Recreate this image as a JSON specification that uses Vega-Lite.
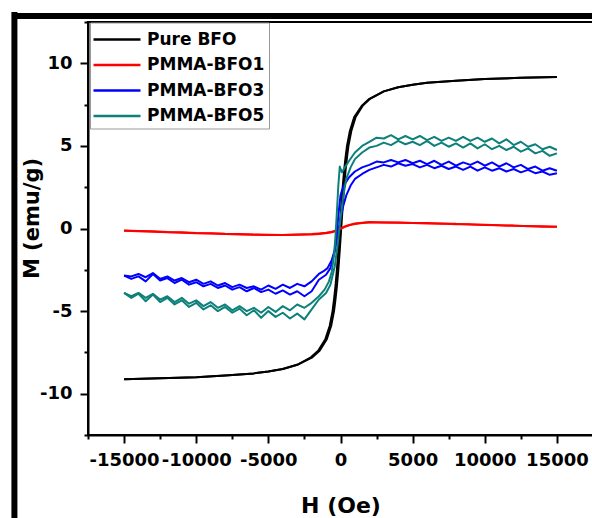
{
  "$schema": "https://vega.github.io/schema/vega-lite/v6.json",
  "autosize": "none",
  "width": 505,
  "height": 413,
  "padding": {"left": 88, "top": 22, "right": 0, "bottom": 83},
  "background": "white",
  "config": {
    "view": {"stroke": "black", "strokeWidth": 2},
    "font": "DejaVu Sans",
    "axis": {
      "domainColor": "black", "domainWidth": 2, "tickColor": "black", "tickWidth": 2,
      "labelFont": "DejaVu Sans", "labelFontWeight": "bold", "labelFontSize": 18, "labelColor": "black",
      "titleFont": "DejaVu Sans", "titleFontWeight": "bold", "titleColor": "black",
      "grid": false, "labelOverlap": false, "labelFlush": false, "labelBound": false
    }
  },
  "datasets": {
    "frame": [
      {"x": -22600, "x2": 21000, "y": 12.86, "y2": 12.86},
      {"x": -22600, "x2": -22600, "y": 13.1, "y2": -18}
    ],
    "curves": [
      {"series": "Pure BFO", "branch": "down", "H": 15000, "M": 9.17},
      {"series": "Pure BFO", "branch": "down", "H": 12500, "M": 9.12},
      {"series": "Pure BFO", "branch": "down", "H": 10000, "M": 9.05},
      {"series": "Pure BFO", "branch": "down", "H": 8000, "M": 8.95},
      {"series": "Pure BFO", "branch": "down", "H": 6000, "M": 8.82},
      {"series": "Pure BFO", "branch": "down", "H": 5000, "M": 8.7},
      {"series": "Pure BFO", "branch": "down", "H": 4000, "M": 8.55},
      {"series": "Pure BFO", "branch": "down", "H": 3000, "M": 8.3},
      {"series": "Pure BFO", "branch": "down", "H": 2000, "M": 7.85},
      {"series": "Pure BFO", "branch": "down", "H": 1500, "M": 7.45},
      {"series": "Pure BFO", "branch": "down", "H": 950, "M": 6.75},
      {"series": "Pure BFO", "branch": "down", "H": 650, "M": 5.9},
      {"series": "Pure BFO", "branch": "down", "H": 450, "M": 5.0},
      {"series": "Pure BFO", "branch": "down", "H": 350, "M": 4.3},
      {"series": "Pure BFO", "branch": "down", "H": 250, "M": 3.5},
      {"series": "Pure BFO", "branch": "down", "H": 150, "M": 2.5},
      {"series": "Pure BFO", "branch": "down", "H": 50, "M": 1.3},
      {"series": "Pure BFO", "branch": "down", "H": -50, "M": 0},
      {"series": "Pure BFO", "branch": "down", "H": -150, "M": -1.3},
      {"series": "Pure BFO", "branch": "down", "H": -250, "M": -2.5},
      {"series": "Pure BFO", "branch": "down", "H": -350, "M": -3.5},
      {"series": "Pure BFO", "branch": "down", "H": -450, "M": -4.3},
      {"series": "Pure BFO", "branch": "down", "H": -550, "M": -5.0},
      {"series": "Pure BFO", "branch": "down", "H": -750, "M": -5.9},
      {"series": "Pure BFO", "branch": "down", "H": -1050, "M": -6.7},
      {"series": "Pure BFO", "branch": "down", "H": -1550, "M": -7.4},
      {"series": "Pure BFO", "branch": "down", "H": -2050, "M": -7.8},
      {"series": "Pure BFO", "branch": "down", "H": -3000, "M": -8.25},
      {"series": "Pure BFO", "branch": "down", "H": -4000, "M": -8.5},
      {"series": "Pure BFO", "branch": "down", "H": -5000, "M": -8.65},
      {"series": "Pure BFO", "branch": "down", "H": -6000, "M": -8.77},
      {"series": "Pure BFO", "branch": "down", "H": -8000, "M": -8.9},
      {"series": "Pure BFO", "branch": "down", "H": -10000, "M": -9.0},
      {"series": "Pure BFO", "branch": "down", "H": -12500, "M": -9.07},
      {"series": "Pure BFO", "branch": "down", "H": -15000, "M": -9.12},
      {"series": "Pure BFO", "branch": "up", "H": -15000, "M": -9.12},
      {"series": "Pure BFO", "branch": "up", "H": -12500, "M": -9.07},
      {"series": "Pure BFO", "branch": "up", "H": -10000, "M": -9.0},
      {"series": "Pure BFO", "branch": "up", "H": -8000, "M": -8.9},
      {"series": "Pure BFO", "branch": "up", "H": -6000, "M": -8.77},
      {"series": "Pure BFO", "branch": "up", "H": -5000, "M": -8.65},
      {"series": "Pure BFO", "branch": "up", "H": -4000, "M": -8.5},
      {"series": "Pure BFO", "branch": "up", "H": -3000, "M": -8.25},
      {"series": "Pure BFO", "branch": "up", "H": -1950, "M": -7.8},
      {"series": "Pure BFO", "branch": "up", "H": -1450, "M": -7.4},
      {"series": "Pure BFO", "branch": "up", "H": -950, "M": -6.7},
      {"series": "Pure BFO", "branch": "up", "H": -650, "M": -5.9},
      {"series": "Pure BFO", "branch": "up", "H": -450, "M": -5.0},
      {"series": "Pure BFO", "branch": "up", "H": -350, "M": -4.3},
      {"series": "Pure BFO", "branch": "up", "H": -250, "M": -3.5},
      {"series": "Pure BFO", "branch": "up", "H": -150, "M": -2.5},
      {"series": "Pure BFO", "branch": "up", "H": -50, "M": -1.3},
      {"series": "Pure BFO", "branch": "up", "H": 50, "M": 0},
      {"series": "Pure BFO", "branch": "up", "H": 150, "M": 1.3},
      {"series": "Pure BFO", "branch": "up", "H": 250, "M": 2.5},
      {"series": "Pure BFO", "branch": "up", "H": 350, "M": 3.5},
      {"series": "Pure BFO", "branch": "up", "H": 450, "M": 4.3},
      {"series": "Pure BFO", "branch": "up", "H": 550, "M": 5.0},
      {"series": "Pure BFO", "branch": "up", "H": 750, "M": 5.9},
      {"series": "Pure BFO", "branch": "up", "H": 1050, "M": 6.75},
      {"series": "Pure BFO", "branch": "up", "H": 1550, "M": 7.45},
      {"series": "Pure BFO", "branch": "up", "H": 2050, "M": 7.85},
      {"series": "Pure BFO", "branch": "up", "H": 3000, "M": 8.3},
      {"series": "Pure BFO", "branch": "up", "H": 4000, "M": 8.55},
      {"series": "Pure BFO", "branch": "up", "H": 5000, "M": 8.7},
      {"series": "Pure BFO", "branch": "up", "H": 6000, "M": 8.82},
      {"series": "Pure BFO", "branch": "up", "H": 8000, "M": 8.95},
      {"series": "Pure BFO", "branch": "up", "H": 10000, "M": 9.05},
      {"series": "Pure BFO", "branch": "up", "H": 12500, "M": 9.12},
      {"series": "Pure BFO", "branch": "up", "H": 15000, "M": 9.17},

      {"series": "PMMA-BFO1", "branch": "down", "H": 15000, "M": 0.1},
      {"series": "PMMA-BFO1", "branch": "down", "H": 14000, "M": 0.14},
      {"series": "PMMA-BFO1", "branch": "down", "H": 13000, "M": 0.14},
      {"series": "PMMA-BFO1", "branch": "down", "H": 12000, "M": 0.18},
      {"series": "PMMA-BFO1", "branch": "down", "H": 11000, "M": 0.19},
      {"series": "PMMA-BFO1", "branch": "down", "H": 10000, "M": 0.23},
      {"series": "PMMA-BFO1", "branch": "down", "H": 9000, "M": 0.24},
      {"series": "PMMA-BFO1", "branch": "down", "H": 8000, "M": 0.28},
      {"series": "PMMA-BFO1", "branch": "down", "H": 7000, "M": 0.29},
      {"series": "PMMA-BFO1", "branch": "down", "H": 6000, "M": 0.33},
      {"series": "PMMA-BFO1", "branch": "down", "H": 5000, "M": 0.33},
      {"series": "PMMA-BFO1", "branch": "down", "H": 4000, "M": 0.37},
      {"series": "PMMA-BFO1", "branch": "down", "H": 3000, "M": 0.37},
      {"series": "PMMA-BFO1", "branch": "down", "H": 2000, "M": 0.39},
      {"series": "PMMA-BFO1", "branch": "down", "H": 1500, "M": 0.35},
      {"series": "PMMA-BFO1", "branch": "down", "H": 1000, "M": 0.3},
      {"series": "PMMA-BFO1", "branch": "down", "H": 600, "M": 0.22},
      {"series": "PMMA-BFO1", "branch": "down", "H": 300, "M": 0.12},
      {"series": "PMMA-BFO1", "branch": "down", "H": 0, "M": 0.0},
      {"series": "PMMA-BFO1", "branch": "down", "H": -300, "M": -0.12},
      {"series": "PMMA-BFO1", "branch": "down", "H": -600, "M": -0.2},
      {"series": "PMMA-BFO1", "branch": "down", "H": -1000, "M": -0.26},
      {"series": "PMMA-BFO1", "branch": "down", "H": -1500, "M": -0.3},
      {"series": "PMMA-BFO1", "branch": "down", "H": -2000, "M": -0.34},
      {"series": "PMMA-BFO1", "branch": "down", "H": -3000, "M": -0.36},
      {"series": "PMMA-BFO1", "branch": "down", "H": -4000, "M": -0.39},
      {"series": "PMMA-BFO1", "branch": "down", "H": -5000, "M": -0.38},
      {"series": "PMMA-BFO1", "branch": "down", "H": -6000, "M": -0.37},
      {"series": "PMMA-BFO1", "branch": "down", "H": -7000, "M": -0.33},
      {"series": "PMMA-BFO1", "branch": "down", "H": -8000, "M": -0.32},
      {"series": "PMMA-BFO1", "branch": "down", "H": -9000, "M": -0.29},
      {"series": "PMMA-BFO1", "branch": "down", "H": -10000, "M": -0.27},
      {"series": "PMMA-BFO1", "branch": "down", "H": -11000, "M": -0.23},
      {"series": "PMMA-BFO1", "branch": "down", "H": -12000, "M": -0.21},
      {"series": "PMMA-BFO1", "branch": "down", "H": -13000, "M": -0.17},
      {"series": "PMMA-BFO1", "branch": "down", "H": -14000, "M": -0.15},
      {"series": "PMMA-BFO1", "branch": "down", "H": -15000, "M": -0.12},
      {"series": "PMMA-BFO1", "branch": "up", "H": -15000, "M": -0.13},
      {"series": "PMMA-BFO1", "branch": "up", "H": -14000, "M": -0.16},
      {"series": "PMMA-BFO1", "branch": "up", "H": -13000, "M": -0.19},
      {"series": "PMMA-BFO1", "branch": "up", "H": -12000, "M": -0.22},
      {"series": "PMMA-BFO1", "branch": "up", "H": -11000, "M": -0.25},
      {"series": "PMMA-BFO1", "branch": "up", "H": -10000, "M": -0.28},
      {"series": "PMMA-BFO1", "branch": "up", "H": -9000, "M": -0.31},
      {"series": "PMMA-BFO1", "branch": "up", "H": -8000, "M": -0.33},
      {"series": "PMMA-BFO1", "branch": "up", "H": -7000, "M": -0.36},
      {"series": "PMMA-BFO1", "branch": "up", "H": -6000, "M": -0.38},
      {"series": "PMMA-BFO1", "branch": "up", "H": -5000, "M": -0.4},
      {"series": "PMMA-BFO1", "branch": "up", "H": -4000, "M": -0.39},
      {"series": "PMMA-BFO1", "branch": "up", "H": -3000, "M": -0.38},
      {"series": "PMMA-BFO1", "branch": "up", "H": -2000, "M": -0.36},
      {"series": "PMMA-BFO1", "branch": "up", "H": -1500, "M": -0.33},
      {"series": "PMMA-BFO1", "branch": "up", "H": -1000, "M": -0.29},
      {"series": "PMMA-BFO1", "branch": "up", "H": -600, "M": -0.23},
      {"series": "PMMA-BFO1", "branch": "up", "H": -300, "M": -0.14},
      {"series": "PMMA-BFO1", "branch": "up", "H": 0, "M": -0.02},
      {"series": "PMMA-BFO1", "branch": "up", "H": 300, "M": 0.1},
      {"series": "PMMA-BFO1", "branch": "up", "H": 600, "M": 0.19},
      {"series": "PMMA-BFO1", "branch": "up", "H": 1000, "M": 0.27},
      {"series": "PMMA-BFO1", "branch": "up", "H": 1500, "M": 0.33},
      {"series": "PMMA-BFO1", "branch": "up", "H": 2000, "M": 0.36},
      {"series": "PMMA-BFO1", "branch": "up", "H": 3000, "M": 0.37},
      {"series": "PMMA-BFO1", "branch": "up", "H": 4000, "M": 0.35},
      {"series": "PMMA-BFO1", "branch": "up", "H": 5000, "M": 0.34},
      {"series": "PMMA-BFO1", "branch": "up", "H": 6000, "M": 0.31},
      {"series": "PMMA-BFO1", "branch": "up", "H": 7000, "M": 0.3},
      {"series": "PMMA-BFO1", "branch": "up", "H": 8000, "M": 0.26},
      {"series": "PMMA-BFO1", "branch": "up", "H": 9000, "M": 0.25},
      {"series": "PMMA-BFO1", "branch": "up", "H": 10000, "M": 0.21},
      {"series": "PMMA-BFO1", "branch": "up", "H": 11000, "M": 0.2},
      {"series": "PMMA-BFO1", "branch": "up", "H": 12000, "M": 0.16},
      {"series": "PMMA-BFO1", "branch": "up", "H": 13000, "M": 0.15},
      {"series": "PMMA-BFO1", "branch": "up", "H": 14000, "M": 0.11},
      {"series": "PMMA-BFO1", "branch": "up", "H": 15000, "M": 0.1},

      {"series": "PMMA-BFO3", "branch": "up", "H": -15000, "M": -2.85},
      {"series": "PMMA-BFO3", "branch": "up", "H": -14500, "M": -3.05},
      {"series": "PMMA-BFO3", "branch": "up", "H": -14000, "M": -2.9},
      {"series": "PMMA-BFO3", "branch": "up", "H": -13500, "M": -3.2},
      {"series": "PMMA-BFO3", "branch": "up", "H": -13000, "M": -2.75},
      {"series": "PMMA-BFO3", "branch": "up", "H": -12500, "M": -3.15},
      {"series": "PMMA-BFO3", "branch": "up", "H": -12000, "M": -3.0},
      {"series": "PMMA-BFO3", "branch": "up", "H": -11500, "M": -3.3},
      {"series": "PMMA-BFO3", "branch": "up", "H": -11000, "M": -3.1},
      {"series": "PMMA-BFO3", "branch": "up", "H": -10500, "M": -3.4},
      {"series": "PMMA-BFO3", "branch": "up", "H": -10000, "M": -3.25},
      {"series": "PMMA-BFO3", "branch": "up", "H": -9500, "M": -3.5},
      {"series": "PMMA-BFO3", "branch": "up", "H": -9000, "M": -3.35},
      {"series": "PMMA-BFO3", "branch": "up", "H": -8500, "M": -3.6},
      {"series": "PMMA-BFO3", "branch": "up", "H": -8000, "M": -3.45},
      {"series": "PMMA-BFO3", "branch": "up", "H": -7500, "M": -3.7},
      {"series": "PMMA-BFO3", "branch": "up", "H": -7000, "M": -3.55},
      {"series": "PMMA-BFO3", "branch": "up", "H": -6500, "M": -3.8},
      {"series": "PMMA-BFO3", "branch": "up", "H": -6000, "M": -3.6},
      {"series": "PMMA-BFO3", "branch": "up", "H": -5500, "M": -3.85},
      {"series": "PMMA-BFO3", "branch": "up", "H": -5000, "M": -3.7},
      {"series": "PMMA-BFO3", "branch": "up", "H": -4500, "M": -3.95},
      {"series": "PMMA-BFO3", "branch": "up", "H": -4000, "M": -3.75},
      {"series": "PMMA-BFO3", "branch": "up", "H": -3500, "M": -4.0},
      {"series": "PMMA-BFO3", "branch": "up", "H": -3000, "M": -3.8},
      {"series": "PMMA-BFO3", "branch": "up", "H": -2500, "M": -4.1},
      {"series": "PMMA-BFO3", "branch": "up", "H": -2000, "M": -3.8},
      {"series": "PMMA-BFO3", "branch": "up", "H": -1500, "M": -3.1},
      {"series": "PMMA-BFO3", "branch": "up", "H": -1000, "M": -2.8},
      {"series": "PMMA-BFO3", "branch": "up", "H": -700, "M": -2.4},
      {"series": "PMMA-BFO3", "branch": "up", "H": -400, "M": -1.4},
      {"series": "PMMA-BFO3", "branch": "up", "H": -200, "M": -0.4},
      {"series": "PMMA-BFO3", "branch": "up", "H": 0, "M": 0.6},
      {"series": "PMMA-BFO3", "branch": "up", "H": 200, "M": 1.4},
      {"series": "PMMA-BFO3", "branch": "up", "H": 400, "M": 2.0},
      {"series": "PMMA-BFO3", "branch": "up", "H": 700, "M": 2.6},
      {"series": "PMMA-BFO3", "branch": "up", "H": 1000, "M": 3.0},
      {"series": "PMMA-BFO3", "branch": "up", "H": 1500, "M": 3.3},
      {"series": "PMMA-BFO3", "branch": "up", "H": 2000, "M": 3.55},
      {"series": "PMMA-BFO3", "branch": "up", "H": 2500, "M": 3.7},
      {"series": "PMMA-BFO3", "branch": "up", "H": 3000, "M": 3.85},
      {"series": "PMMA-BFO3", "branch": "up", "H": 3500, "M": 3.75},
      {"series": "PMMA-BFO3", "branch": "up", "H": 4000, "M": 3.95},
      {"series": "PMMA-BFO3", "branch": "up", "H": 4500, "M": 3.8},
      {"series": "PMMA-BFO3", "branch": "up", "H": 5000, "M": 3.9},
      {"series": "PMMA-BFO3", "branch": "up", "H": 5500, "M": 3.7},
      {"series": "PMMA-BFO3", "branch": "up", "H": 6000, "M": 3.85},
      {"series": "PMMA-BFO3", "branch": "up", "H": 6500, "M": 3.65},
      {"series": "PMMA-BFO3", "branch": "up", "H": 7000, "M": 3.8},
      {"series": "PMMA-BFO3", "branch": "up", "H": 7500, "M": 3.6},
      {"series": "PMMA-BFO3", "branch": "up", "H": 8000, "M": 3.75},
      {"series": "PMMA-BFO3", "branch": "up", "H": 8500, "M": 3.55},
      {"series": "PMMA-BFO3", "branch": "up", "H": 9000, "M": 3.75},
      {"series": "PMMA-BFO3", "branch": "up", "H": 9500, "M": 3.5},
      {"series": "PMMA-BFO3", "branch": "up", "H": 10000, "M": 3.7},
      {"series": "PMMA-BFO3", "branch": "up", "H": 10500, "M": 3.5},
      {"series": "PMMA-BFO3", "branch": "up", "H": 11000, "M": 3.65},
      {"series": "PMMA-BFO3", "branch": "up", "H": 11500, "M": 3.45},
      {"series": "PMMA-BFO3", "branch": "up", "H": 12000, "M": 3.6},
      {"series": "PMMA-BFO3", "branch": "up", "H": 12500, "M": 3.4},
      {"series": "PMMA-BFO3", "branch": "up", "H": 13000, "M": 3.55},
      {"series": "PMMA-BFO3", "branch": "up", "H": 13500, "M": 3.35},
      {"series": "PMMA-BFO3", "branch": "up", "H": 14000, "M": 3.45},
      {"series": "PMMA-BFO3", "branch": "up", "H": 14500, "M": 3.25},
      {"series": "PMMA-BFO3", "branch": "up", "H": 15000, "M": 3.35},
      {"series": "PMMA-BFO3", "branch": "down", "H": 15000, "M": 3.5},
      {"series": "PMMA-BFO3", "branch": "down", "H": 14500, "M": 3.65},
      {"series": "PMMA-BFO3", "branch": "down", "H": 14000, "M": 3.5},
      {"series": "PMMA-BFO3", "branch": "down", "H": 13500, "M": 3.75},
      {"series": "PMMA-BFO3", "branch": "down", "H": 13000, "M": 3.6},
      {"series": "PMMA-BFO3", "branch": "down", "H": 12500, "M": 3.85},
      {"series": "PMMA-BFO3", "branch": "down", "H": 12000, "M": 3.7},
      {"series": "PMMA-BFO3", "branch": "down", "H": 11500, "M": 3.95},
      {"series": "PMMA-BFO3", "branch": "down", "H": 11000, "M": 3.75},
      {"series": "PMMA-BFO3", "branch": "down", "H": 10500, "M": 4.0},
      {"series": "PMMA-BFO3", "branch": "down", "H": 10000, "M": 3.8},
      {"series": "PMMA-BFO3", "branch": "down", "H": 9500, "M": 4.05},
      {"series": "PMMA-BFO3", "branch": "down", "H": 9000, "M": 3.85},
      {"series": "PMMA-BFO3", "branch": "down", "H": 8500, "M": 4.0},
      {"series": "PMMA-BFO3", "branch": "down", "H": 8000, "M": 3.8},
      {"series": "PMMA-BFO3", "branch": "down", "H": 7500, "M": 4.05},
      {"series": "PMMA-BFO3", "branch": "down", "H": 7000, "M": 3.85},
      {"series": "PMMA-BFO3", "branch": "down", "H": 6500, "M": 4.1},
      {"series": "PMMA-BFO3", "branch": "down", "H": 6000, "M": 3.9},
      {"series": "PMMA-BFO3", "branch": "down", "H": 5500, "M": 4.1},
      {"series": "PMMA-BFO3", "branch": "down", "H": 5000, "M": 3.95},
      {"series": "PMMA-BFO3", "branch": "down", "H": 4500, "M": 4.15},
      {"series": "PMMA-BFO3", "branch": "down", "H": 4000, "M": 4.0},
      {"series": "PMMA-BFO3", "branch": "down", "H": 3500, "M": 4.15},
      {"series": "PMMA-BFO3", "branch": "down", "H": 3000, "M": 4.0},
      {"series": "PMMA-BFO3", "branch": "down", "H": 2500, "M": 4.05},
      {"series": "PMMA-BFO3", "branch": "down", "H": 2000, "M": 3.85},
      {"series": "PMMA-BFO3", "branch": "down", "H": 1500, "M": 3.7},
      {"series": "PMMA-BFO3", "branch": "down", "H": 1000, "M": 3.45},
      {"series": "PMMA-BFO3", "branch": "down", "H": 600, "M": 3.1},
      {"series": "PMMA-BFO3", "branch": "down", "H": 300, "M": 2.7},
      {"series": "PMMA-BFO3", "branch": "down", "H": 100, "M": 2.3},
      {"series": "PMMA-BFO3", "branch": "down", "H": 0, "M": 2.0},
      {"series": "PMMA-BFO3", "branch": "down", "H": -100, "M": 1.2},
      {"series": "PMMA-BFO3", "branch": "down", "H": -200, "M": 0.3},
      {"series": "PMMA-BFO3", "branch": "down", "H": -300, "M": -0.6},
      {"series": "PMMA-BFO3", "branch": "down", "H": -400, "M": -1.3},
      {"series": "PMMA-BFO3", "branch": "down", "H": -600, "M": -1.9},
      {"series": "PMMA-BFO3", "branch": "down", "H": -900, "M": -2.4},
      {"series": "PMMA-BFO3", "branch": "down", "H": -1200, "M": -2.6},
      {"series": "PMMA-BFO3", "branch": "down", "H": -1500, "M": -2.75},
      {"series": "PMMA-BFO3", "branch": "down", "H": -2000, "M": -3.2},
      {"series": "PMMA-BFO3", "branch": "down", "H": -2500, "M": -3.5},
      {"series": "PMMA-BFO3", "branch": "down", "H": -3000, "M": -3.35},
      {"series": "PMMA-BFO3", "branch": "down", "H": -3500, "M": -3.6},
      {"series": "PMMA-BFO3", "branch": "down", "H": -4000, "M": -3.4},
      {"series": "PMMA-BFO3", "branch": "down", "H": -4500, "M": -3.65},
      {"series": "PMMA-BFO3", "branch": "down", "H": -5000, "M": -3.45},
      {"series": "PMMA-BFO3", "branch": "down", "H": -5500, "M": -3.7},
      {"series": "PMMA-BFO3", "branch": "down", "H": -6000, "M": -3.5},
      {"series": "PMMA-BFO3", "branch": "down", "H": -6500, "M": -3.6},
      {"series": "PMMA-BFO3", "branch": "down", "H": -7000, "M": -3.4},
      {"series": "PMMA-BFO3", "branch": "down", "H": -7500, "M": -3.55},
      {"series": "PMMA-BFO3", "branch": "down", "H": -8000, "M": -3.3},
      {"series": "PMMA-BFO3", "branch": "down", "H": -8500, "M": -3.45},
      {"series": "PMMA-BFO3", "branch": "down", "H": -9000, "M": -3.2},
      {"series": "PMMA-BFO3", "branch": "down", "H": -9500, "M": -3.35},
      {"series": "PMMA-BFO3", "branch": "down", "H": -10000, "M": -3.1},
      {"series": "PMMA-BFO3", "branch": "down", "H": -10500, "M": -3.25},
      {"series": "PMMA-BFO3", "branch": "down", "H": -11000, "M": -3.0},
      {"series": "PMMA-BFO3", "branch": "down", "H": -11500, "M": -3.15},
      {"series": "PMMA-BFO3", "branch": "down", "H": -12000, "M": -2.9},
      {"series": "PMMA-BFO3", "branch": "down", "H": -12500, "M": -3.05},
      {"series": "PMMA-BFO3", "branch": "down", "H": -13000, "M": -2.7},
      {"series": "PMMA-BFO3", "branch": "down", "H": -13500, "M": -2.95},
      {"series": "PMMA-BFO3", "branch": "down", "H": -14000, "M": -2.75},
      {"series": "PMMA-BFO3", "branch": "down", "H": -14500, "M": -2.9},
      {"series": "PMMA-BFO3", "branch": "down", "H": -15000, "M": -2.85},

      {"series": "PMMA-BFO5", "branch": "up", "H": -15000, "M": -3.9},
      {"series": "PMMA-BFO5", "branch": "up", "H": -14500, "M": -4.2},
      {"series": "PMMA-BFO5", "branch": "up", "H": -14000, "M": -3.95},
      {"series": "PMMA-BFO5", "branch": "up", "H": -13500, "M": -4.4},
      {"series": "PMMA-BFO5", "branch": "up", "H": -13000, "M": -4.0},
      {"series": "PMMA-BFO5", "branch": "up", "H": -12500, "M": -4.45},
      {"series": "PMMA-BFO5", "branch": "up", "H": -12000, "M": -4.2},
      {"series": "PMMA-BFO5", "branch": "up", "H": -11500, "M": -4.6},
      {"series": "PMMA-BFO5", "branch": "up", "H": -11000, "M": -4.35},
      {"series": "PMMA-BFO5", "branch": "up", "H": -10500, "M": -4.75},
      {"series": "PMMA-BFO5", "branch": "up", "H": -10000, "M": -4.5},
      {"series": "PMMA-BFO5", "branch": "up", "H": -9500, "M": -4.9},
      {"series": "PMMA-BFO5", "branch": "up", "H": -9000, "M": -4.65},
      {"series": "PMMA-BFO5", "branch": "up", "H": -8500, "M": -5.0},
      {"series": "PMMA-BFO5", "branch": "up", "H": -8000, "M": -4.75},
      {"series": "PMMA-BFO5", "branch": "up", "H": -7500, "M": -5.1},
      {"series": "PMMA-BFO5", "branch": "up", "H": -7000, "M": -4.85},
      {"series": "PMMA-BFO5", "branch": "up", "H": -6500, "M": -5.25},
      {"series": "PMMA-BFO5", "branch": "up", "H": -6000, "M": -4.95},
      {"series": "PMMA-BFO5", "branch": "up", "H": -5500, "M": -5.4},
      {"series": "PMMA-BFO5", "branch": "up", "H": -5000, "M": -5.0},
      {"series": "PMMA-BFO5", "branch": "up", "H": -4500, "M": -5.35},
      {"series": "PMMA-BFO5", "branch": "up", "H": -4000, "M": -5.1},
      {"series": "PMMA-BFO5", "branch": "up", "H": -3500, "M": -5.45},
      {"series": "PMMA-BFO5", "branch": "up", "H": -3000, "M": -5.15},
      {"series": "PMMA-BFO5", "branch": "up", "H": -2500, "M": -5.5},
      {"series": "PMMA-BFO5", "branch": "up", "H": -2000, "M": -4.9},
      {"series": "PMMA-BFO5", "branch": "up", "H": -1500, "M": -4.3},
      {"series": "PMMA-BFO5", "branch": "up", "H": -1000, "M": -3.9},
      {"series": "PMMA-BFO5", "branch": "up", "H": -700, "M": -3.4},
      {"series": "PMMA-BFO5", "branch": "up", "H": -400, "M": -2.3},
      {"series": "PMMA-BFO5", "branch": "up", "H": -200, "M": -1.0},
      {"series": "PMMA-BFO5", "branch": "up", "H": 0, "M": 0.6},
      {"series": "PMMA-BFO5", "branch": "up", "H": 200, "M": 2.0},
      {"series": "PMMA-BFO5", "branch": "up", "H": 400, "M": 3.0},
      {"series": "PMMA-BFO5", "branch": "up", "H": 700, "M": 3.7},
      {"series": "PMMA-BFO5", "branch": "up", "H": 1000, "M": 4.2},
      {"series": "PMMA-BFO5", "branch": "up", "H": 1500, "M": 4.6},
      {"series": "PMMA-BFO5", "branch": "up", "H": 2000, "M": 4.9},
      {"series": "PMMA-BFO5", "branch": "up", "H": 2500, "M": 5.0},
      {"series": "PMMA-BFO5", "branch": "up", "H": 3000, "M": 5.2},
      {"series": "PMMA-BFO5", "branch": "up", "H": 3500, "M": 5.05},
      {"series": "PMMA-BFO5", "branch": "up", "H": 4000, "M": 5.3},
      {"series": "PMMA-BFO5", "branch": "up", "H": 4500, "M": 5.1},
      {"series": "PMMA-BFO5", "branch": "up", "H": 5000, "M": 5.25},
      {"series": "PMMA-BFO5", "branch": "up", "H": 5500, "M": 5.05},
      {"series": "PMMA-BFO5", "branch": "up", "H": 6000, "M": 5.3},
      {"series": "PMMA-BFO5", "branch": "up", "H": 6500, "M": 5.0},
      {"series": "PMMA-BFO5", "branch": "up", "H": 7000, "M": 5.2},
      {"series": "PMMA-BFO5", "branch": "up", "H": 7500, "M": 4.95},
      {"series": "PMMA-BFO5", "branch": "up", "H": 8000, "M": 5.15},
      {"series": "PMMA-BFO5", "branch": "up", "H": 8500, "M": 4.9},
      {"series": "PMMA-BFO5", "branch": "up", "H": 9000, "M": 5.15},
      {"series": "PMMA-BFO5", "branch": "up", "H": 9500, "M": 4.85},
      {"series": "PMMA-BFO5", "branch": "up", "H": 10000, "M": 5.1},
      {"series": "PMMA-BFO5", "branch": "up", "H": 10500, "M": 4.8},
      {"series": "PMMA-BFO5", "branch": "up", "H": 11000, "M": 5.0},
      {"series": "PMMA-BFO5", "branch": "up", "H": 11500, "M": 4.75},
      {"series": "PMMA-BFO5", "branch": "up", "H": 12000, "M": 4.95},
      {"series": "PMMA-BFO5", "branch": "up", "H": 12500, "M": 4.65},
      {"series": "PMMA-BFO5", "branch": "up", "H": 13000, "M": 4.85},
      {"series": "PMMA-BFO5", "branch": "up", "H": 13500, "M": 4.55},
      {"series": "PMMA-BFO5", "branch": "up", "H": 14000, "M": 4.7},
      {"series": "PMMA-BFO5", "branch": "up", "H": 14500, "M": 4.4},
      {"series": "PMMA-BFO5", "branch": "up", "H": 15000, "M": 4.55},
      {"series": "PMMA-BFO5", "branch": "down", "H": 15000, "M": 4.75},
      {"series": "PMMA-BFO5", "branch": "down", "H": 14500, "M": 4.95},
      {"series": "PMMA-BFO5", "branch": "down", "H": 14000, "M": 4.8},
      {"series": "PMMA-BFO5", "branch": "down", "H": 13500, "M": 5.1},
      {"series": "PMMA-BFO5", "branch": "down", "H": 13000, "M": 4.95},
      {"series": "PMMA-BFO5", "branch": "down", "H": 12500, "M": 5.25},
      {"series": "PMMA-BFO5", "branch": "down", "H": 12000, "M": 5.05},
      {"series": "PMMA-BFO5", "branch": "down", "H": 11500, "M": 5.4},
      {"series": "PMMA-BFO5", "branch": "down", "H": 11000, "M": 5.15},
      {"series": "PMMA-BFO5", "branch": "down", "H": 10500, "M": 5.45},
      {"series": "PMMA-BFO5", "branch": "down", "H": 10000, "M": 5.25},
      {"series": "PMMA-BFO5", "branch": "down", "H": 9500, "M": 5.5},
      {"series": "PMMA-BFO5", "branch": "down", "H": 9000, "M": 5.3},
      {"series": "PMMA-BFO5", "branch": "down", "H": 8500, "M": 5.55},
      {"series": "PMMA-BFO5", "branch": "down", "H": 8000, "M": 5.3},
      {"series": "PMMA-BFO5", "branch": "down", "H": 7500, "M": 5.5},
      {"series": "PMMA-BFO5", "branch": "down", "H": 7000, "M": 5.3},
      {"series": "PMMA-BFO5", "branch": "down", "H": 6500, "M": 5.55},
      {"series": "PMMA-BFO5", "branch": "down", "H": 6000, "M": 5.35},
      {"series": "PMMA-BFO5", "branch": "down", "H": 5500, "M": 5.6},
      {"series": "PMMA-BFO5", "branch": "down", "H": 5000, "M": 5.4},
      {"series": "PMMA-BFO5", "branch": "down", "H": 4500, "M": 5.6},
      {"series": "PMMA-BFO5", "branch": "down", "H": 4000, "M": 5.4},
      {"series": "PMMA-BFO5", "branch": "down", "H": 3500, "M": 5.65},
      {"series": "PMMA-BFO5", "branch": "down", "H": 3000, "M": 5.45},
      {"series": "PMMA-BFO5", "branch": "down", "H": 2500, "M": 5.5},
      {"series": "PMMA-BFO5", "branch": "down", "H": 2000, "M": 5.25},
      {"series": "PMMA-BFO5", "branch": "down", "H": 1500, "M": 5.0},
      {"series": "PMMA-BFO5", "branch": "down", "H": 1000, "M": 4.6},
      {"series": "PMMA-BFO5", "branch": "down", "H": 600, "M": 4.1},
      {"series": "PMMA-BFO5", "branch": "down", "H": 300, "M": 3.7},
      {"series": "PMMA-BFO5", "branch": "down", "H": 100, "M": 3.4},
      {"series": "PMMA-BFO5", "branch": "down", "H": -50, "M": 3.75},
      {"series": "PMMA-BFO5", "branch": "down", "H": -150, "M": 2.6},
      {"series": "PMMA-BFO5", "branch": "down", "H": -250, "M": 1.0},
      {"series": "PMMA-BFO5", "branch": "down", "H": -350, "M": -0.5},
      {"series": "PMMA-BFO5", "branch": "down", "H": -450, "M": -1.6},
      {"series": "PMMA-BFO5", "branch": "down", "H": -600, "M": -2.6},
      {"series": "PMMA-BFO5", "branch": "down", "H": -800, "M": -3.2},
      {"series": "PMMA-BFO5", "branch": "down", "H": -1100, "M": -3.7},
      {"series": "PMMA-BFO5", "branch": "down", "H": -1500, "M": -4.1},
      {"series": "PMMA-BFO5", "branch": "down", "H": -2000, "M": -4.5},
      {"series": "PMMA-BFO5", "branch": "down", "H": -2500, "M": -4.8},
      {"series": "PMMA-BFO5", "branch": "down", "H": -3000, "M": -4.6},
      {"series": "PMMA-BFO5", "branch": "down", "H": -3500, "M": -4.95},
      {"series": "PMMA-BFO5", "branch": "down", "H": -4000, "M": -4.7},
      {"series": "PMMA-BFO5", "branch": "down", "H": -4500, "M": -5.05},
      {"series": "PMMA-BFO5", "branch": "down", "H": -5000, "M": -4.75},
      {"series": "PMMA-BFO5", "branch": "down", "H": -5500, "M": -5.1},
      {"series": "PMMA-BFO5", "branch": "down", "H": -6000, "M": -4.8},
      {"series": "PMMA-BFO5", "branch": "down", "H": -6500, "M": -5.0},
      {"series": "PMMA-BFO5", "branch": "down", "H": -7000, "M": -4.7},
      {"series": "PMMA-BFO5", "branch": "down", "H": -7500, "M": -4.95},
      {"series": "PMMA-BFO5", "branch": "down", "H": -8000, "M": -4.6},
      {"series": "PMMA-BFO5", "branch": "down", "H": -8500, "M": -4.8},
      {"series": "PMMA-BFO5", "branch": "down", "H": -9000, "M": -4.45},
      {"series": "PMMA-BFO5", "branch": "down", "H": -9500, "M": -4.7},
      {"series": "PMMA-BFO5", "branch": "down", "H": -10000, "M": -4.35},
      {"series": "PMMA-BFO5", "branch": "down", "H": -10500, "M": -4.55},
      {"series": "PMMA-BFO5", "branch": "down", "H": -11000, "M": -4.2},
      {"series": "PMMA-BFO5", "branch": "down", "H": -11500, "M": -4.45},
      {"series": "PMMA-BFO5", "branch": "down", "H": -12000, "M": -4.1},
      {"series": "PMMA-BFO5", "branch": "down", "H": -12500, "M": -4.3},
      {"series": "PMMA-BFO5", "branch": "down", "H": -13000, "M": -3.95},
      {"series": "PMMA-BFO5", "branch": "down", "H": -13500, "M": -4.2},
      {"series": "PMMA-BFO5", "branch": "down", "H": -14000, "M": -3.9},
      {"series": "PMMA-BFO5", "branch": "down", "H": -14500, "M": -4.1},
      {"series": "PMMA-BFO5", "branch": "down", "H": -15000, "M": -3.9}
    ]
  },
  "layer": [
    {
      "data": {"name": "curves"},
      "mark": {"type": "line", "strokeWidth": 2, "strokeJoin": "round"},
      "encoding": {
        "x": {
          "field": "H", "type": "quantitative",
          "scale": {"domain": [-17500, 17500], "nice": false, "zero": false},
          "axis": {
            "values": [-17500, -15000, -12500, -10000, -7500, -5000, -2500, 0, 2500, 5000, 7500, 10000, 12500, 15000, 17500],
            "tickCount": 30,
            "labelExpr": "(datum.value == -15000 || datum.value == -10000 || datum.value == -5000 || datum.value == 0 || datum.value == 5000 || datum.value == 10000 || datum.value == 15000) ? ('' + datum.value) : ''",
            "labelOverlap": false,
            "tickSize": {"condition": {"test": "datum.value % 5000 == 0", "value": 8}, "value": 4},
            "labelPadding": 8,
            "title": "H (Oe)", "titleFontSize": 22, "titleBaseline": "alphabetic", "titleY": 77
          }
        },
        "y": {
          "field": "M", "type": "quantitative",
          "scale": {"domain": [-12.5, 12.5], "nice": false, "zero": false},
          "axis": {
            "values": [-12.5, -10, -7.5, -5, -2.5, 0, 2.5, 5, 7.5, 10, 12.5],
            "tickCount": 30,
            "labelExpr": "(datum.value == -10 || datum.value == -5 || datum.value == 0 || datum.value == 5 || datum.value == 10) ? ('' + datum.value) : ''",
            "labelOverlap": false,
            "tickSize": {"condition": {"test": "datum.value % 5 == 0", "value": 8}, "value": 4},
            "labelPadding": 8,
            "title": "M (emu/g)", "titleFontSize": 21, "titleBaseline": "alphabetic", "titleX": -50, "titleY": 196, "titleAngle": -90
          }
        },
        "color": {
          "field": "series", "type": "nominal",
          "scale": {"domain": ["Pure BFO", "PMMA-BFO1", "PMMA-BFO3", "PMMA-BFO5"], "range": ["#000000", "#ff0000", "#0000ff", "#0d807a"]},
          "legend": {
            "orient": "none", "legendX": 2, "legendY": 0.5, "title": null,
            "symbolType": "M-2,0H2", "symbolSize": 552, "symbolStrokeWidth": 2.5, "symbolOffset": 10,
            "labelFont": "DejaVu Sans", "labelFontWeight": "bold", "labelFontSize": 17, "labelColor": "black",
            "labelOffset": 17, "rowPadding": 4.5, "padding": 4,
            "strokeColor": "#999999", "fillColor": "white", "labelLimit": 300
          }
        },
        "detail": {"field": "branch"}
      }
    },
    {
      "mark": {"type": "rule", "color": "black", "strokeWidth": 2.5},
      "encoding": {"x": {"datum": 0}}
    },
    {
      "mark": {"type": "rule", "color": "black", "strokeWidth": 2.5},
      "encoding": {"y": {"datum": 0}}
    },
    {
      "data": {"name": "frame"},
      "mark": {"type": "rule", "color": "black", "strokeWidth": 6, "clip": false},
      "encoding": {
        "x": {"field": "x", "type": "quantitative"},
        "x2": {"field": "x2"},
        "y": {"field": "y", "type": "quantitative"},
        "y2": {"field": "y2"}
      }
    }
  ]
}
